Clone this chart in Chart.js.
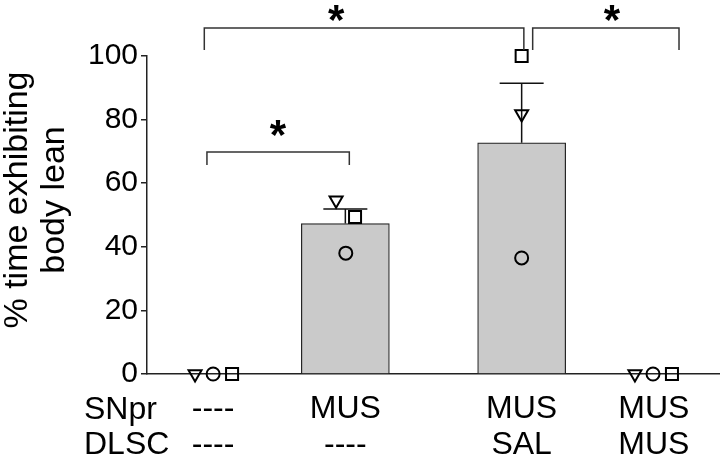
<!DOCTYPE html>
<html>
<head>
<meta charset="utf-8">
<script src="https://cdn.jsdelivr.net/npm/chart.js@4/dist/chart.umd.min.js"></script>
<style>
  html, body { margin: 0; padding: 0; background: #fff; }
  #wrap { width: 720px; height: 459px; }
</style>
</head>
<body>
<div id="wrap"><canvas id="leanChart" width="720" height="459"></canvas></div>
<script>
// groups (x position on a linear axis, row labels under the axis)
const catPos = [1.5, 4.5, 8.5, 11.5];
const snprLabels = ['----', 'MUS', 'MUS', 'MUS'];
const dlscLabels = ['----', '----', 'SAL', 'MUS'];

// group means and upper SEM
const meanLean = [0, 47.3, 72.7, 0];
const semTop = [null, 51.9, 91.4, null];

// individual animals (three subjects, one symbol each)
const triX = [1.09, 4.29, 8.5, 11.07];
const triY = [0, 54.6, 81.8, 0];
const circX = [1.5, 4.51, 8.5, 11.48];
const circY = [0, 38.0, 36.5, 0];
const sqX = [1.93, 4.72, 8.5, 11.91];
const sqY = [0, 49.4, 100, 0];

const yTicks = [0, 20, 40, 60, 80, 100];

// significance brackets: x range, bar level, foot level, star position
const brackets = [
  { x1: 1.30, x2: 8.55, level: 108.8, foot: 101.9, starX: 4.29, starY: 113.8 },
  { x1: 8.75, x2: 12.07, level: 108.8, foot: 101.9, starX: 10.55, starY: 113.8 },
  { x1: 1.36, x2: 4.59, level: 69.8, foot: 65.7, starX: 2.97, starY: 77.4 }
];

const FONT = "'Liberation Sans', Arial, Helvetica, sans-serif";
const toPts = (xs, ys) => xs.map((x, i) => ({ x: x, y: ys[i] }));

const extras = {
  id: 'extras',
  afterDatasetDraw(chart, args) {
    if (args.index !== 0) return;
    const ctx = chart.ctx;
    const xs = chart.scales.x, ys = chart.scales.y;
    ctx.save();
    ctx.strokeStyle = '#111';
    ctx.lineWidth = 1.5;
    semTop.forEach((top, i) => {
      if (top == null) return;
      const px = xs.getPixelForValue(catPos[i]);
      const y0 = ys.getPixelForValue(meanLean[i]);
      const y1 = ys.getPixelForValue(top);
      ctx.beginPath();
      ctx.moveTo(px, y0);
      ctx.lineTo(px, y1);
      ctx.moveTo(px - 22, y1);
      ctx.lineTo(px + 22, y1);
      ctx.stroke();
    });
    ctx.restore();
  },
  afterDraw(chart) {
    const ctx = chart.ctx;
    const xs = chart.scales.x, ys = chart.scales.y;
    ctx.save();
    // brackets and stars
    ctx.strokeStyle = '#333';
    ctx.lineWidth = 1.5;
    ctx.fillStyle = '#000';
    ctx.font = 'bold 42px ' + FONT;
    ctx.textAlign = 'center';
    ctx.textBaseline = 'middle';
    brackets.forEach(b => {
      const a = xs.getPixelForValue(b.x1), c = xs.getPixelForValue(b.x2);
      const yl = ys.getPixelForValue(b.level), yf = ys.getPixelForValue(b.foot);
      ctx.beginPath();
      ctx.moveTo(a, yf);
      ctx.lineTo(a, yl);
      ctx.lineTo(c, yl);
      ctx.lineTo(c, yf);
      ctx.stroke();
      ctx.fillText('*', xs.getPixelForValue(b.starX), ys.getPixelForValue(b.starY) + 10);
    });
    // row headers under the axis
    ctx.font = '32px ' + FONT;
    ctx.textAlign = 'left';
    ctx.fillText('SNpr', 84, 410);
    ctx.fillText('DLSC', 84, 445);
    // y title, two rotated lines
    ctx.font = '34px ' + FONT;
    ctx.textAlign = 'center';
    ctx.translate(0, 200);
    ctx.rotate(-Math.PI / 2);
    ctx.fillText('% time exhibiting', 0, 18);
    ctx.fillText('body lean', 0, 55);
    ctx.restore();
  }
};

const pointStyle = {
  borderWidth: 2,
  borderColor: '#000',
  backgroundColor: 'rgba(0,0,0,0)',
  clip: false,
  order: 1
};

new Chart(document.getElementById('leanChart'), {
  type: 'bar',
  data: {
    datasets: [
      {
        type: 'bar',
        data: toPts(catPos, meanLean),
        backgroundColor: '#cacaca',
        borderColor: '#222',
        borderWidth: 1.2,
        barThickness: 88,
        order: 3
      },
      Object.assign({ type: 'scatter', data: toPts(triX, triY), pointStyle: 'triangle', rotation: 180, radius: 7.5 }, pointStyle),
      Object.assign({ type: 'scatter', data: toPts(circX, circY), pointStyle: 'circle', radius: 6.5 }, pointStyle),
      Object.assign({ type: 'scatter', data: toPts(sqX, sqY), pointStyle: 'rect', radius: 8.5 }, pointStyle)
    ]
  },
  options: {
    responsive: false,
    animation: false,
    layout: { autoPadding: false, padding: { top: 56, left: 0, right: 0, bottom: 0 } },
    plugins: {
      legend: { display: false },
      tooltip: { enabled: false }
    },
    scales: {
      x: {
        type: 'linear',
        min: 0,
        max: 13,
        offset: false,
        grid: { display: false, drawTicks: false },
        border: { display: true, color: '#222', width: 1.5 },
        afterBuildTicks: (scale) => { scale.ticks = catPos.map(v => ({ value: v })); },
        afterFit: (scale) => {
          scale.height = 85;
          scale.paddingLeft = 0;
          scale.paddingRight = 0;
        },
        ticks: {
          autoSkip: false,
          maxRotation: 0,
          padding: 18,
          color: '#000',
          font: { family: FONT, size: 32, lineHeight: 1.1 },
          callback: (value) => {
            const i = catPos.indexOf(value);
            return i < 0 ? '' : [snprLabels[i], dlscLabels[i]];
          }
        }
      },
      y: {
        min: 0,
        max: 100,
        afterBuildTicks: (scale) => { scale.ticks = yTicks.map(v => ({ value: v })); },
        afterFit: (scale) => { scale.width = 147; },
        grid: { drawOnChartArea: false, drawTicks: true, tickLength: 6, color: '#222', lineWidth: 1.5 },
        border: { display: true, color: '#222', width: 1.5 },
        ticks: {
          padding: 3,
          color: '#000',
          font: { family: FONT, size: 30 }
        }
      }
    }
  },
  plugins: [extras]
});
</script>
</body>
</html>
